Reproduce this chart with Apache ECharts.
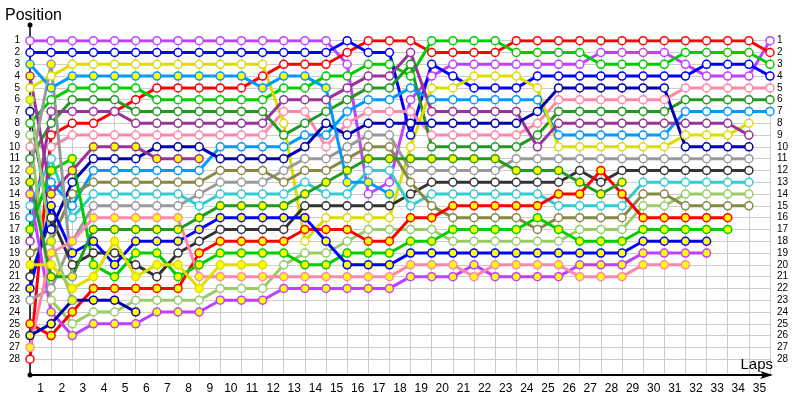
<!DOCTYPE html>
<html><head><meta charset="utf-8">
<script src="https://cdn.jsdelivr.net/npm/echarts@6/dist/echarts.min.js"></script>
<style>html,body{margin:0;padding:0;background:#fff}#c{width:800px;height:400px}</style>
</head><body><div id="c"></div>
<script>
// ---- tick labels ----
const lapLabels = ['1','2','3','4','5','6','7','8','9','10','11','12','13','14','15','16','17','18','19','20','21','22','23','24','25','26','27','28','29','30','31','32','33','34','35'];
const positionMin = 1, positionMax = 28, lapMax = 35;

// ---- positions per lap (index = lap 0..) ----
const violetA   = [1,1,1,1,1,1,1,1,1,1,1,1,1,1,1,3,14,13,6,4,3,3,3,3,3,3,3,2,2,2,2,3,4,4,4,1];
const redA      = [28,9,8,8,7,6,5,5,5,5,5,4,3,3,3,2,1,1,1,2,2,2,2,1,1,1,1,1,1,1,1,1,1,1,1,2];
const greenA    = [8,6,5,5,5,5,6,6,6,6,6,6,5,5,4,4,3,3,4,1,1,1,1,2,2,2,2,3,3,3,3,2,2,2,2,3];
const blueA     = [2,2,2,2,2,2,2,2,2,2,2,2,2,2,2,1,2,2,9,3,4,5,5,5,4,4,4,4,4,4,4,4,3,3,3,4];
const pinkA     = [10,10,9,9,9,9,9,9,9,9,9,9,7,7,10,8,7,7,7,9,9,9,9,9,8,6,6,6,6,6,6,5,5,5,5,5];
const darkGreenA= [11,8,6,6,6,7,7,7,7,7,7,7,9,8,7,6,5,5,3,10,10,10,10,10,9,7,7,7,7,7,7,6,6,6,6,6];
const lightBlueA= [16,13,15,12,12,12,12,12,12,10,10,10,10,9,9,7,6,6,5,6,6,6,6,6,6,9,9,9,9,9,9,7,7,7,7,7];
const yellowA   = [5,4,3,3,3,3,3,3,3,3,3,3,8,18,16,16,16,16,10,5,5,4,4,4,5,10,10,10,10,10,10,9,9,9,8];
const purpleA   = [18,7,7,7,7,8,8,8,8,8,8,8,6,6,6,5,4,4,2,7,7,7,7,7,10,8,8,8,8,8,8,8,8,8,9];
const navyA     = [7,17,13,11,11,11,10,10,10,11,11,11,11,10,8,9,8,8,8,8,8,8,8,8,7,5,5,5,5,5,5,10,10,10,10];
const grayA     = [23,22,18,15,15,15,15,15,14,13,13,13,12,11,11,10,9,9,12,12,12,12,12,11,11,11,11,11,11,11,11,11,11,11,11];
const blackA    = [21,16,20,19,19,20,21,19,18,17,17,17,17,15,15,15,15,15,14,13,13,13,13,13,13,13,12,13,12,12,12,12,12,12,12];
const cyanA     = [15,11,16,14,14,14,14,14,15,14,14,14,14,13,14,14,12,12,15,14,14,14,14,14,14,15,15,15,15,13,13,13,13,13,13];
const lightGreenA=[9,23,25,24,24,23,23,23,23,22,22,22,20,19,19,18,17,17,17,17,18,18,18,18,18,18,17,17,17,15,15,14,14,14,14];
const oliveA    = [19,18,14,13,13,13,13,13,13,12,12,12,13,12,12,11,10,10,13,15,16,16,16,16,17,16,16,16,16,14,14,15,15,15,15];
const redB      = [25,26,24,22,22,22,22,22,19,18,18,18,18,17,17,17,18,18,16,16,15,15,15,15,15,14,14,12,14,16,16,16,16,16];
const greenB    = [17,12,11,20,21,19,19,21,20,19,19,19,19,20,20,19,19,19,18,18,17,17,17,17,16,17,18,18,18,17,17,17,17,17];
const blueB     = [22,15,19,18,20,18,18,18,17,16,16,16,16,16,18,20,20,20,19,19,19,19,19,19,19,19,19,19,19,18,18,18,18];
const violetB   = [14,24,26,25,25,25,24,24,24,23,23,23,22,22,22,22,22,22,21,21,21,20,21,21,21,21,20,20,20,19,19,19,19];
const pinkB     = [27,19,18,16,16,16,16,16,21,21,21,21,21,21,21,21,21,21,20,20,20,21,20,20,20,20,21,21,21,20,20,20];
const yellowB   = [20,20,22,21,18,21,20,20,22,20,20,20];
const lightBlueB= [3,5,4,4,4,4,4,4,4,4,4,5,4,4,5,13,13,14];
const purpleB   = [4,14,12,10,10,10,11,11,11];
const navyB     = [26,25,23,23,23,24];
const darkGreenB= [13,21,21,17,17,17,17,17,16,15,15,15,15,14,13,12,11,11,11,11,11,11,11,12,12,12,13,14,13];
const grayB     = [12,3,21];
const lightGreenB=[6,18,23];

// ---- styles ----
const seriesNames  = ['violetA','redA','greenA','blueA','pinkA','darkGreenA','lightBlueA','yellowA','purpleA','navyA','grayA','blackA','cyanA','lightGreenA','oliveA','redB','greenB','blueB','violetB','pinkB','yellowB','lightBlueB','purpleB','navyB','darkGreenB','grayB','lightGreenB'];
const seriesData   = [violetA,redA,greenA,blueA,pinkA,darkGreenA,lightBlueA,yellowA,purpleA,navyA,grayA,blackA,cyanA,lightGreenA,oliveA,redB,greenB,blueB,violetB,pinkB,yellowB,lightBlueB,purpleB,navyB,darkGreenB,grayB,lightGreenB];
const C = {violet:'#c040ff',red:'#ff0000',green:'#00cc00',blue:'#0000ff',pink:'#ff88aa',darkGreen:'#229922',lightBlue:'#0099ff',yellow:'#dddd00',purple:'#993399',navy:'#0000b0',gray:'#999999',black:'#333333',cyan:'#33cccc',lightGreen:'#99cc66',olive:'#888844'};
const seriesColors = [C.violet,C.red,C.green,C.blue,C.pink,C.darkGreen,C.lightBlue,C.yellow,C.purple,C.navy,C.gray,C.black,C.cyan,C.lightGreen,C.olive,C.red,C.green,C.blue,C.violet,C.pink,C.yellow,C.lightBlue,C.purple,C.navy,C.darkGreen,C.gray,C.lightGreen];
const seriesFill   = ['#fff','#fff','#fff','#fff','#fff','#fff','#fff','#fff','#fff','#fff','#fff','#fff','#fff','#fff','#fff','#ffff00','#ffff00','#ffff00','#ffff00','#ffff00','#ffff00','#ffff00','#ffff00','#ffff00','#ffff00','#ffff00','#ffff00'];

const series = seriesData.map((arr, k) => ({
  name: seriesNames[k], type: 'line', xAxisIndex: 0, yAxisIndex: 0,
  data: arr.map((p, lap) => [lap, p]),
  symbol: 'circle', symbolSize: 8, showAllSymbol: true,
  lineStyle: {color: seriesColors[k], width: 3},
  itemStyle: {color: seriesFill[k], borderColor: seriesColors[k], borderWidth: 1.5},
  emphasis: {disabled: true}, z: 3
}));

const font = 'Liberation Sans, Arial, sans-serif';
const chart = echarts.init(document.getElementById('c'), null, {renderer: 'canvas'});
chart.setOption({
  animation: false,
  backgroundColor: '#fff',
  title: [
    {text: 'Position', left: 0, top: 3, textStyle: {fontSize: 16, fontWeight: 'normal', color: '#000', fontFamily: font}},
    {text: 'Laps', right: 22, top: 352, textStyle: {fontSize: 15, fontWeight: 'normal', color: '#000', fontFamily: font}}
  ],
  grid: [
    {left: 30, right: 30, top: 40.7, bottom: 40.8},
    {left: 30, right: 30, top: 40.7, bottom: 25},
    {left: 30, right: 30, top: 25, bottom: 25}
  ],
  xAxis: [
    {gridIndex: 0, type: 'value', min: 0, max: lapMax, show: false},
    {gridIndex: 1, type: 'category', data: lapLabels, boundaryGap: true,
     axisLine: {show: true, lineStyle: {color: '#000', width: 2}, symbol: ['none', 'arrow'], symbolSize: [6, 13], symbolOffset: [0, 3]},
     axisTick: {show: false},
     axisLabel: {color: '#000', fontSize: 12, margin: 8, fontFamily: font, interval: 0},
     splitLine: {show: true, interval: 0, lineStyle: {color: '#cccccc', width: 1}}},
    {gridIndex: 2, type: 'value', show: false}
  ],
  yAxis: [
    {gridIndex: 0, type: 'value', inverse: true, min: positionMin, max: positionMax, interval: 1,
     axisLine: {show: false}, axisTick: {show: false},
     axisLabel: {color: '#000', fontSize: 10, margin: 10, fontFamily: font},
     splitLine: {show: true, lineStyle: {color: '#cccccc', width: 1}}},
    {gridIndex: 0, type: 'value', inverse: true, min: positionMin, max: positionMax, interval: 1, position: 'right',
     axisLine: {show: false}, axisTick: {show: false},
     axisLabel: {color: '#000', fontSize: 10, margin: 7, fontFamily: font},
     splitLine: {show: false}},
    {gridIndex: 1, type: 'value', show: false},
    {gridIndex: 2, type: 'value', min: 0, max: 1, position: 'left',
     axisLine: {show: true, lineStyle: {color: '#000', width: 1.5}, symbol: ['circle', 'circle'], symbolSize: [5, 5]},
     axisTick: {show: false}, axisLabel: {show: false}, splitLine: {show: false}}
  ],
  series: series
});
</script></body></html>
